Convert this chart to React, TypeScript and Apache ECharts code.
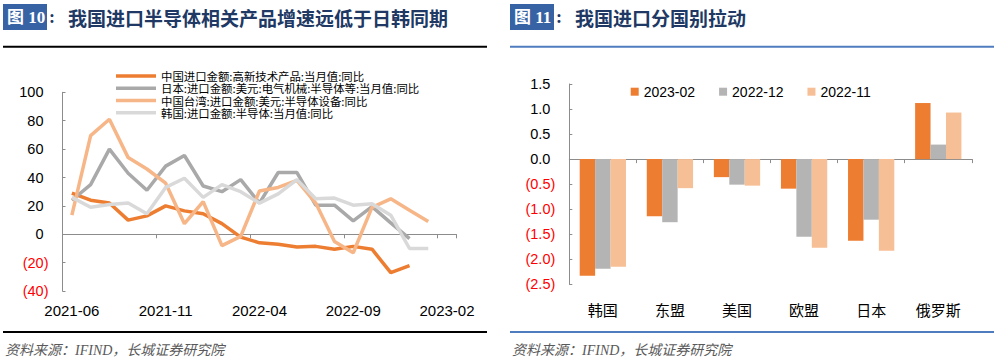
import React, { useEffect, useRef } from "react";
import * as echarts from "echarts";

const months = [
  "2021-06", "2021-07", "2021-08", "2021-09", "2021-10", "2021-11", "2021-12",
  "2022-01", "2022-02", "2022-03", "2022-04", "2022-05", "2022-06", "2022-07",
  "2022-08", "2022-09", "2022-10", "2022-11", "2022-12", "2023-01", "2023-02",
];
const seriesNames = [
  "中国进口金额:高新技术产品:当月值:同比",
  "日本:进口金额:美元:电气机械:半导体等:当月值:同比",
  "中国台湾:进口金额:美元:半导体设备:同比",
  "韩国:进口金额:半导体:当月值:同比",
];
const chinaHighTech = [29, 24, 22, 10, 13, 20, 16.5, 14.5, 7.5, -2, -6, -7, -9, -8.5, -10.5, -8.5, -10.5, -27, -22, null, null];
const japanSemi = [24, 35, 60, 43, 31, 48, 55.5, 34, 30, 38.5, 22, 43.5, 43.5, 20.5, 20.5, 9.5, 19.5, 8, -3, null, null];
const taiwanEquip = [13.5, 69.5, 81, 54, 46, 36, 7.5, 23, -8, -1.5, 30.5, 33, 38, 22, -5, -13, 19, 25, 17, 9, null];
const koreaSemi = [26, 19, 21, 22, 14.5, 33, 39.5, 26, 35, 30, 22, 28.5, 38.5, 25, 25.5, 20.5, 21.5, 13.5, -10, -10, null];
const lineColors = ["#ED7D31", "#A9A9A9", "#F6B687", "#D9D9D9"];

const countries = ["韩国", "东盟", "美国", "欧盟", "日本", "俄罗斯"];
const barNames = ["2023-02", "2022-12", "2022-11"];
const bar202302 = [-2.33, -1.14, -0.36, -0.59, -1.63, 1.12];
const bar202212 = [-2.19, -1.26, -0.51, -1.55, -1.21, 0.29];
const bar202211 = [-2.15, -0.58, -0.53, -1.77, -1.83, 0.93];
const barColors = ["#ED7D31", "#B4B4B4", "#F7BF95"];

const LATIN = '"Liberation Sans", "Noto Sans CJK SC", sans-serif';
const CJK = '"Noto Sans CJK SC", "Liberation Sans", sans-serif';
const SERIF = '"Liberation Serif", "Noto Sans CJK SC", serif';
const AXIS_COLOR = "#8C8C8C";

function header(x: number, num: string, title: string, lineColor: string, x2: number) {
  return [
    { type: "rect", shape: { x, y: 4, width: 44, height: 26 }, style: { fill: "#3763A4" } },
    {
      type: "text", x: x + 4, y: 17,
      style: { text: "图 " + num, fill: "#fff", font: `bold 17px ${SERIF}`, verticalAlign: "middle" },
    },
    {
      type: "text", x: x + 46, y: 17,
      style: { text: ":", fill: "#203864", font: `bold 18px ${SERIF}`, verticalAlign: "middle" },
    },
    {
      type: "text", x: x + 65, y: 17,
      style: { text: title, fill: "#203864", font: `bold 19px ${CJK}`, verticalAlign: "middle" },
    },
    { type: "line", shape: { x1: x, y1: 46.7, x2, y2: 46.7 }, style: { stroke: lineColor, lineWidth: 2 } },
    { type: "line", shape: { x1: x, y1: 332, x2, y2: 332 }, style: { stroke: lineColor, lineWidth: 2 } },
    {
      type: "text", x: x + 2, y: 350,
      style: {
        text: "资料来源：IFIND，长城证券研究院", fill: "#595959",
        font: `italic 14px ${SERIF}`, verticalAlign: "middle",
      },
    },
  ];
}

export default function App() {
  const ref = useRef<HTMLDivElement>(null);
  useEffect(() => {
    if (!ref.current) return;
    const chart = echarts.init(ref.current, undefined, { renderer: "svg" });
    const yRich = (size: number) => ({
      p: { color: "#000", fontSize: size, fontFamily: LATIN, padding: [0, 5, 0, 0] },
      n: { color: "#FF0000", fontSize: size, fontFamily: LATIN },
    });
    const lines = [chinaHighTech, japanSemi, taiwanEquip, koreaSemi];
    const bars = [bar202302, bar202212, bar202211];
    chart.setOption({
      animation: false,
      grid: [
        { left: 62.5, top: 92.3, width: 393.9, height: 198.8 },
        { left: 569.3, top: 84, width: 402.5, height: 200.3 },
      ],
      legend: [
        {
          data: seriesNames, orient: "vertical", left: 116, top: 70.2, padding: 0,
          icon: "rect", itemWidth: 40, itemHeight: 3.5, itemGap: 0.4,
          textStyle: { fontSize: 11.4, lineHeight: 11.8, color: "#000", fontFamily: CJK },
        },
        {
          data: barNames, orient: "horizontal", left: 630.7, top: 84.7, padding: 0,
          itemWidth: 8, itemHeight: 8, itemGap: 24, icon: "rect",
          textStyle: { fontSize: 14, color: "#000", fontFamily: LATIN },
        },
      ],
      xAxis: [
        {
          gridIndex: 0, type: "category", data: months, position: "top", boundaryGap: true,
          axisLine: { show: true, onZero: true, lineStyle: { color: AXIS_COLOR } },
          axisTick: { show: true, inside: true, length: 4, interval: 4, lineStyle: { color: AXIS_COLOR } },
          axisLabel: { show: false },
        },
        {
          gridIndex: 0, type: "category", data: months, position: "bottom", boundaryGap: true,
          axisLine: { show: false, onZero: false }, axisTick: { show: false },
          axisLabel: { show: true, interval: 4, margin: 12, fontSize: 15, color: "#000", fontFamily: LATIN },
        },
        {
          gridIndex: 1, type: "category", data: countries, position: "top",
          axisLine: { show: true, onZero: true, lineStyle: { color: AXIS_COLOR } },
          axisTick: { show: true, inside: true, length: 4, interval: 0, lineStyle: { color: AXIS_COLOR } },
          axisLabel: { show: false },
        },
        {
          gridIndex: 1, type: "category", data: countries, position: "bottom",
          axisLine: { show: false, onZero: false }, axisTick: { show: false },
          axisLabel: { show: true, interval: 0, margin: 18, fontSize: 15, color: "#000", fontFamily: CJK },
        },
      ],
      yAxis: [
        {
          gridIndex: 0, type: "value", min: -40, max: 100, interval: 20,
          axisLine: { show: true, lineStyle: { color: AXIS_COLOR } },
          axisTick: { show: true, inside: true, length: 3, lineStyle: { color: AXIS_COLOR } },
          splitLine: { show: false },
          axisLabel: {
            margin: 14,
            formatter: (v: number) => (v < 0 ? `{n|(${-v})}` : `{p|${v}}`),
            rich: yRich(14.5),
          },
        },
        {
          gridIndex: 1, type: "value", min: -2.5, max: 1.5, interval: 0.5,
          axisLine: { show: true, lineStyle: { color: AXIS_COLOR } },
          axisTick: { show: true, inside: true, length: 3, lineStyle: { color: AXIS_COLOR } },
          splitLine: { show: false },
          axisLabel: {
            margin: 14,
            formatter: (v: number) => (v < 0 ? `{n|(${(-v).toFixed(1)})}` : `{p|${v.toFixed(1)}}`),
            rich: yRich(14.5),
          },
        },
      ],
      series: [
        ...lines.map((d, i) => ({
          name: seriesNames[i], type: "line", data: d, xAxisIndex: 0, yAxisIndex: 0,
          symbol: "none", color: lineColors[i],
          lineStyle: { width: 3.5, color: lineColors[i] },
        })),
        ...bars.map((d, i) => ({
          name: barNames[i], type: "bar", data: d, xAxisIndex: 2, yAxisIndex: 1,
          barGap: "0%", barCategoryGap: "31%", color: barColors[i],
          itemStyle: { color: barColors[i] },
        })),
      ],
      graphic: [
        ...header(3, "10", "我国进口半导体相关产品增速远低于日韩同期", "#000", 487),
        ...header(510, "11", "我国进口分国别拉动", "#4F7CBF", 994),
      ],
    });
    return () => chart.dispose();
  }, []);
  return (
    <div
      ref={ref}
      style={{ position: "fixed", left: 0, top: 0, width: 1000, height: 361, background: "#fff" }}
    />
  );
}
